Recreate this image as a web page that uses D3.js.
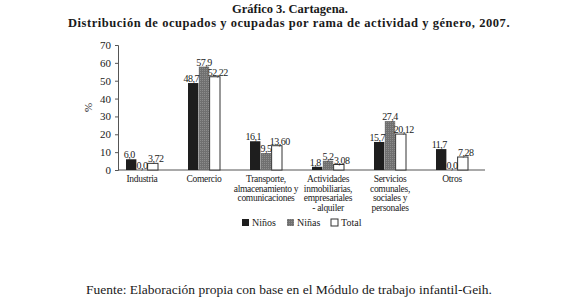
<!DOCTYPE html>
<html>
<head>
<meta charset="utf-8">
<script src="https://cdn.jsdelivr.net/npm/d3@7"></script>
<style>
  body { margin: 0; background: #fff; }
  text { font-family: "Liberation Serif", "DejaVu Serif", serif; fill: #1a1a1a; }
</style>
</head>
<body>
<div id="chart"></div>
<script>
// --- Données ---
const categories = [
  ["Industria"],
  ["Comercio"],
  ["Transporte,", "almacenamiento y", "comunicaciones"],
  ["Actividades", "inmobiliarias,", "empresariales", "- alquiler"],
  ["Servicios", "comunales,", "sociales y", "personales"],
  ["Otros"]
];
const series = ["Niños", "Niñas", "Total"];
const ninos = [6.0, 48.7, 16.1, 1.8, 15.7, 11.7];
const ninas = [0.0, 57.9, 9.5, 5.2, 27.4, 0.0];
const total = [3.72, 52.22, 13.60, 3.08, 20.12, 7.28];
const labelsNinos = ["6,0", "48,7", "16,1", "1,8", "15,7", "11,7"];
const labelsNinas = ["0,0", "57,9", "9,5", "5,2", "27,4", "0,0"];
const labelsTotal = ["3,72", "52,22", "13,60", "3,08", "20,12", "7,28"];
const yTicks = [0, 10, 20, 30, 40, 50, 60, 70];

const W = 580, H = 308;
const svg = d3.select("#chart").append("svg")
  .attr("width", W).attr("height", H);

// motif pour les barres grises
const defs = svg.append("defs");
const pat = defs.append("pattern")
  .attr("id", "dots").attr("width", 2).attr("height", 2)
  .attr("patternUnits", "userSpaceOnUse");
pat.append("rect").attr("width", 2).attr("height", 2).attr("fill", "#707070");
pat.append("rect").attr("width", 1).attr("height", 1).attr("fill", "#8c8c8c");

// Titre
svg.append("text").attr("x", 290).attr("y", 13).attr("text-anchor", "middle")
  .style("font-size", "12.5px").style("font-weight", "bold")
  .text("Gráfico 3. Cartagena.");
svg.append("text").attr("x", 289).attr("y", 27).attr("text-anchor", "middle")
  .style("font-size", "12.5px").style("font-weight", "bold")
  .style("letter-spacing", "0.55px")
  .text("Distribución de ocupados y ocupadas por rama de actividad y género, 2007.");

// Échelles
const y = d3.scaleLinear().domain([0, 70]).range([170, 45]);
const x0 = d3.scaleBand().domain(d3.range(categories.length)).range([111, 483]);
const x1 = d3.scaleBand().domain(series).range([-16, 16]).paddingInner(0.04);

// Axe Y
const yAxis = svg.append("g").attr("transform", "translate(118,0)")
  .call(d3.axisLeft(y).tickValues(yTicks).tickSize(3).tickPadding(4));
yAxis.select(".domain").attr("stroke", "#555");
yAxis.selectAll(".tick line").attr("stroke", "#555");
yAxis.selectAll(".tick text").style("font-size", "11px").style("font-family", "Liberation Serif, serif").attr("fill", "#333");

// Axe X
svg.append("line").attr("x1", 118).attr("x2", 485).attr("y1", y(0)).attr("y2", y(0))
  .attr("stroke", "#555");

svg.append("text")
  .attr("transform", `translate(92,${(y(0) + y(70)) / 2}) rotate(-90)`)
  .attr("text-anchor", "middle").style("font-size", "11px").text("%");

// Barres
const fills = { "Niños": "#1e1e1e", "Niñas": "url(#dots)", "Total": "#fff" };
const rows = categories.map((c, i) => ({
  i,
  vals: [
    { key: "Niños", v: ninos[i], lab: labelsNinos[i] },
    { key: "Niñas", v: ninas[i], lab: labelsNinas[i] },
    { key: "Total", v: total[i], lab: labelsTotal[i] }
  ]
}));

const grp = svg.selectAll(".grp").data(rows).join("g")
  .attr("transform", d => `translate(${x0(d.i) + x0.bandwidth() / 2},0)`);

grp.selectAll("rect").data(d => d.vals.filter(v => v.v > 0)).join("rect")
  .attr("x", d => x1(d.key))
  .attr("width", x1.bandwidth())
  .attr("y", d => y(d.v))
  .attr("height", d => y(0) - y(d.v))
  .attr("fill", d => fills[d.key])
  .attr("stroke", d => d.key === "Total" ? "#333" : "none")
  .attr("stroke-width", 1);

grp.selectAll(".val").data(d => d.vals).join("text")
  .attr("class", "val")
  .attr("x", d => x1(d.key) + x1.bandwidth() / 2 + (d.key === "Niños" ? -2 : d.key === "Total" ? 3 : 0))
  .attr("y", d => y(d.v) - 1)
  .attr("text-anchor", "middle")
  .style("font-size", "10px")
  .style("letter-spacing", "-0.5px")
  .text(d => d.lab);

// Étiquettes des catégories
grp.each(function(d) {
  const t = d3.select(this).append("text")
    .attr("text-anchor", "middle").style("font-size", "9.5px")
    .style("letter-spacing", "-0.3px");
  categories[d.i].forEach((line, k) => {
    t.append("tspan").attr("x", 0).attr("y", 182 + k * 9.5).text(line);
  });
});

// Légende
const legendX = [242, 287, 331];
const legend = svg.selectAll(".legend").data(series).join("g")
  .attr("transform", (d, i) => `translate(${legendX[i]},219)`);
legend.append("rect").attr("width", 7).attr("height", 7)
  .attr("fill", d => fills[d])
  .attr("stroke", d => d === "Total" ? "#333" : "none");
legend.append("text").attr("x", 10).attr("y", 7)
  .style("font-size", "10px").text(d => d);

// Source
svg.append("text").attr("x", 289).attr("y", 294).attr("text-anchor", "middle")
  .style("font-size", "13.5px")
  .text("Fuente: Elaboración propia con base en el Módulo de trabajo infantil-Geih.");
</script>
</body>
</html>
